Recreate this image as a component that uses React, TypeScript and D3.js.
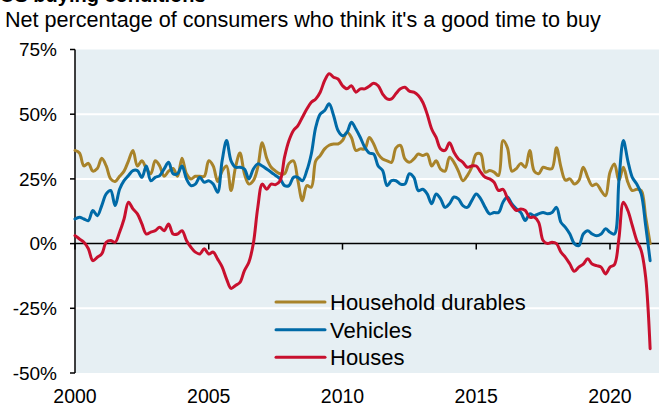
import React from 'react';
import * as d3 from 'd3';

const title = 'US buying conditions';
const subtitle = "Net percentage of consumers who think it's a good time to buy";
const yTicks = [75, 50, 25, 0, -25, -50];
const xTicks = [2000, 2005, 2010, 2015, 2020];
const seriesNames = ['Household durables', 'Vehicles', 'Houses'];
const seriesColors = ['#a8832a', '#006aa7', '#c8102e'];

// readings every 2 months, starting Jan 2000
const startYear = 2000;
const stepMonths = 2;

const durables = [
  36, 35, 30, 31, 28, 29, 33, 30, 25, 24, 26, 28, 32, 36, 30, 32, 29, 27, 32, 30, 26, 28, 29, 26, 33, 27, 25, 26, 26, 26, 32, 30, 24, 28,
  30, 20.5, 29.5, 35, 27, 23, 24.3, 29.5, 39, 33, 29.5, 28, 27, 27, 31, 32, 24.3, 16.6, 22.4, 21.8, 32, 34, 36.6, 38, 38.5, 38.5, 39.8, 43, 41, 36, 36.6, 36.6,
  41, 38.5, 34.6, 32.7, 32, 31.4, 37, 37.9, 32.7, 31.4, 32.7, 34.6, 34, 34.6, 30, 32, 28.8, 28, 33.4, 31.4, 28, 24.3, 26.3, 29.5, 34.6, 34.6, 27.6, 28.2, 27.6, 26.3, 39.8,
  37, 28, 29, 31, 29.5, 36, 28, 27, 29.5, 29, 29, 37, 29.5, 24.5, 25, 23, 24.3, 29.5, 25.6, 22.4, 23, 20.5, 18.5, 27.6, 30.8, 24.3, 29.5, 23.7, 20.5, 21, 20.5, 10.3, 0,
];

const vehicles = [
  9.5, 10.2, 9.5, 8.9, 12.8, 10.8, 14.7, 19.2, 20.5, 14.7, 21, 24.3, 26.3, 28.2, 28.2, 25.6, 30, 24.3, 25.6, 26.3, 28.9, 31.4, 27, 27, 30, 25, 22.4, 23, 25.6, 23.7, 24.3, 23, 19.8, 32,
  39.8, 32, 29.5, 29.5, 28.8, 25, 28.8, 30.8, 30, 28.8, 27.6, 26.3, 25, 22.4, 22.4, 25.6, 25.6, 24.3, 28.2, 34.6, 45, 50, 51.4, 54, 49.5, 43.7, 41.7, 43, 46.9, 44.3, 41, 37.2,
  35, 34.6, 30, 28.2, 22.4, 24.3, 24.3, 23, 23, 27, 25.6, 20.5, 21, 19.2, 15.4, 19.2, 17.3, 14, 15.4, 18, 17.3, 14.7, 14, 16.6, 19.2, 17.3, 14, 11.5, 12, 12, 16,
  18, 15.3, 13.4, 12, 8.9, 11.5, 10.8, 11.5, 12, 11.5, 12, 14, 8.2, 6.3, 3.7, 0, -0.8, 3.7, 5, 3.7, 3, 3.7, 5.7, 4.4, 3.7, 24.3, 39.8, 32, 25.6, 23, 19.2, 7, -6.6,
];

const houses = [
  3.1, 1.8, 0.5, -2, -6.6, -5.3, -4, 0.5, 1.2, 0.5, 4.4, 9.5, 16, 13.4, 11.5, 7.6, 3.7, 4.4, 5, 6.3, 5, 7.6, 3.7, 3.7, 5, 1.2, -1.4, -3.3, -4, -2, -4, -3.3, -6, -9,
  -13.7, -17.3, -16.2, -15, -10.4, -7.2, 0, 14, 23, 21, 23, 22.8, 24.3, 33.4, 39.8, 43.7, 45.6, 48.8, 52, 54.6, 55.9, 58.5, 63, 65.6, 64.3, 63.6, 61, 59.8, 61, 58.5, 59.8, 59.8,
  60.8, 62, 61, 57.8, 55.9, 55.9, 58, 59.8, 60.4, 58.9, 58.5, 57.2, 54.6, 50, 44.3, 41, 36.6, 36, 39, 35.3, 32.7, 31.4, 29.5, 30, 30, 27.6, 25.6, 25, 23.7, 20.5, 21,
  17.5, 14.7, 12.8, 13.4, 12.8, 10.2, 10.2, 8.2, 1.2, 0, 0.5, 0, -3.3, -5.3, -7.9, -10.7, -9.1, -7.9, -5.9, -7.9, -8.5, -9.1, -11.7, -9.1, -8.1, 2, 16, 12.8, 7, 1.2, -2.7, -13, -40.6,
];

const allSeries = [durables, vehicles, houses];

const W = 659;
const H = 406;
const font = '"Liberation Sans", Arial, sans-serif';

export default function App() {
  const x = d3.scaleLinear().domain([2000, 2020]).range([75, 610]);
  const y = d3.scaleLinear().domain([-50, 75]).range([373, 49.5]);
  const plotRight = W;

  const line = d3
    .line<number>()
    .x((_, i) => x(startYear + (i * stepMonths) / 12))
    .y((d) => y(d))
    .curve(d3.curveCatmullRom.alpha(0.5));

  const legendY = [302, 329.7, 357.3];

  return (
    <svg
      width={W}
      height={H}
      style={{ position: 'absolute', left: 0, top: 0, display: 'block' }}
      fontFamily={font}
    >
      <rect x={0} y={0} width={W} height={H} fill="#fff" />
      {/* title is cropped at the top edge, as in the source image */}
      <text x={0} y={2} fontSize={20} fontWeight="bold" fill="#000">{title}</text>
      <text x={5} y={27} fontSize={21.6} fill="#000">{subtitle}</text>

      {/* plot background */}
      <rect x={x(2000)} y={y(75)} width={plotRight - x(2000)} height={y(-50) - y(75)} fill="#e6eff3" />

      {/* gridlines */}
      {yTicks.filter((t) => t !== 0 && t !== 75 && t !== -50).map((t) => (
        <line key={t} x1={x(2000)} x2={plotRight} y1={y(t)} y2={y(t)} stroke="#fff" strokeWidth={2} />
      ))}

      {/* zero line with year ticks */}
      <line x1={x(2000)} x2={plotRight} y1={y(0)} y2={y(0)} stroke="#000" strokeWidth={1.5} />
      {xTicks.map((t) => (
        <line key={t} x1={x(t)} x2={x(t)} y1={y(0)} y2={y(0) + 6} stroke="#000" strokeWidth={1.5} />
      ))}

      {/* y axis */}
      <line x1={x(2000)} x2={x(2000)} y1={y(75)} y2={y(-50)} stroke="#000" strokeWidth={1.5} />
      {yTicks.map((t) => (
        <g key={t}>
          <line x1={x(2000) - 5} x2={x(2000)} y1={y(t)} y2={y(t)} stroke="#000" strokeWidth={1.5} />
          <text x={57} y={y(t)} dy="0.36em" textAnchor="end" fontSize={19} fill="#000">
            {t}%
          </text>
        </g>
      ))}

      {xTicks.map((t) => (
        <text key={t} x={x(t)} y={403} textAnchor="middle" fontSize={19.5} fill="#000">
          {t}
        </text>
      ))}

      {allSeries.map((s, i) => (
        <path
          key={seriesNames[i]}
          d={line(s) || ''}
          fill="none"
          stroke={seriesColors[i]}
          strokeWidth={3}
          strokeLinejoin="round"
          strokeLinecap="round"
        />
      ))}

      {seriesNames.map((n, i) => (
        <g key={n}>
          <line x1={276} x2={325} y1={legendY[i]} y2={legendY[i]} stroke={seriesColors[i]} strokeWidth={3} strokeLinecap="round" />
          <text x={330} y={legendY[i]} dy="0.36em" fontSize={22} fill="#000">
            {n}
          </text>
        </g>
      ))}
    </svg>
  );
}
